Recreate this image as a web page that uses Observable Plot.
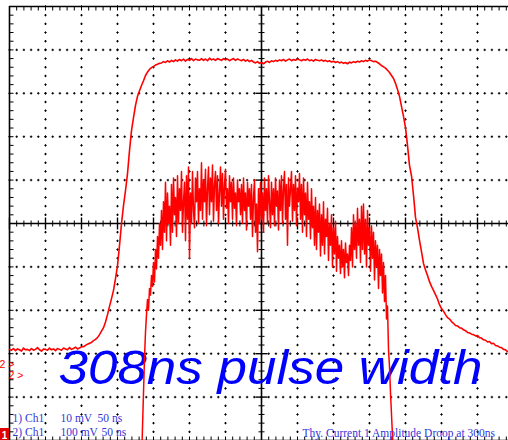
<!DOCTYPE html>
<html>
<head>
<meta charset="utf-8">
<script src="https://cdn.jsdelivr.net/npm/d3@7"></script>
<script src="https://cdn.jsdelivr.net/npm/@observablehq/plot@0.6"></script>
<style>
  html, body { margin: 0; padding: 0; background: #fff; }
  #scope { width: 508px; height: 440px; overflow: hidden; position: relative; }
  #scope svg { overflow: hidden; display: block; }
</style>
</head>
<body>
<div id="scope"></div>
<script>
// ---- Acquisition settings ----
const timePerDiv = 50;        // ns / div
const ch1MvPerDiv = 10;       // mV / div
const ch2MvPerDiv = 100;      // mV / div
const ch1Ground = -5;         // reference level, div
const ch2Ground = -3.5;       // reference level, div
const ch1Start = -350;        // ns, first sample
const ch1Step = 2.7778;       // ns, sample interval
const ch2Start = -166.67;     // ns, first sample
const ch2Step = 1.3889;       // ns, sample interval

// ---- Channel 1 record (mV) ----
const ch1 = [
  21.0, 20.8, 21.2, 20.7, 21.1, 20.9, 20.6, 21.3, 20.9, 21.0,
  20.7, 21.2, 20.8, 21.0, 21.4, 20.9, 20.6, 21.1, 21.0, 20.8,
  21.3, 20.9, 21.1, 20.7, 21.2, 21.0, 20.8, 21.3, 21.1, 20.9,
  21.4, 21.0, 21.2, 21.5, 21.1, 21.3, 21.6, 21.6, 21.9, 22.2,
  22.4, 22.6, 23.0, 23.3, 23.7, 24.4, 25.2, 26.0, 27.3, 29.0,
  30.9, 32.7, 34.6, 37.3, 40.3, 44.9, 50.0, 54.1, 57.6, 61.5,
  66.8, 71.4, 74.4, 77.2, 79.3, 80.6, 81.8, 82.9, 84.1, 84.9,
  85.5, 85.9, 86.2, 86.5, 86.7, 86.9,
  87.0, 87.3, 87.1, 87.5, 87.2, 87.6, 87.3, 87.7, 87.4, 87.8,
  87.5, 87.9, 87.4, 87.8, 87.6, 88.0, 87.5, 87.9, 87.7, 87.6,
  88.0, 87.6, 87.9, 87.5, 88.1, 87.7, 87.9, 87.6, 88.0, 87.8,
  87.6, 88.0, 87.7, 87.9, 87.5, 87.8, 88.0, 87.6, 87.9, 87.7,
  87.5, 87.8, 87.4, 87.7, 87.3, 87.6, 87.2, 87.0, 87.3, 86.9,
  87.1, 86.8, 87.2, 87.4, 87.1, 87.5, 87.3, 87.6, 87.4, 87.7,
  87.5, 87.8, 87.4, 87.7, 87.9, 87.5, 87.8, 87.6, 87.9, 87.7,
  87.5, 87.8, 87.6, 87.9, 87.5, 87.7, 87.4, 87.8, 87.6, 87.5,
  87.7, 87.4, 87.6, 87.3, 87.5, 87.2, 87.4, 87.1, 87.3, 87.0,
  87.2, 86.9, 87.1, 86.8, 87.2, 87.0, 87.3, 87.1, 87.4, 87.2,
  87.5, 87.3, 87.6, 87.4, 87.7, 87.5, 87.3, 87.4, 87.1, 86.8,
  86.4, 86.1, 85.8, 85.3, 84.8, 84.1, 83.4, 82.3, 80.9, 79.3,
  77.0, 74.7, 72.1, 68.0, 63.4, 61.0, 56.5, 51.4, 49.0, 46.1,
  43.5, 40.8, 39.3, 38.0, 36.6, 35.5, 34.6, 33.6, 32.6, 31.3,
  30.4, 29.8, 29.0, 28.3, 28.0, 27.4, 27.0, 26.5, 26.4, 26.0,
  25.9, 25.5, 25.3, 24.9, 24.8, 24.5, 24.4, 24.1, 24.2, 23.7,
  23.6, 23.2, 23.1, 22.7, 22.8, 22.3, 22.4, 21.9, 21.8, 21.5,
  21.4, 21.0, 20.9, 20.5, 20.3, 20.1
];

// ---- Channel 2 record (mV) ----
const ch2 = [
  -200, -120, -40, 40, 100, 140, 175, 150, 200, 185,
  230, 205, 260, 215, 290, 245, 320, 270, 350, 300,
  380, 290, 400, 330, 445, 310, 420, 350, 390, 300,
  440, 330, 455, 370, 410, 320, 460, 350, 430, 380,
  470, 330, 400, 445, 310, 460, 360, 480, 270, 420,
  350, 470, 380, 340, 455, 400, 470, 350, 430, 380,
  490, 360, 450, 400, 475, 345, 430, 480, 370, 455,
  400, 485, 355, 440, 470, 380, 460, 350, 420, 480,
  390, 465, 360, 440, 475, 385, 430, 350, 460, 400,
  445, 360, 455, 385, 420, 345, 450, 400, 430, 370,
  440, 350, 455, 380, 420, 335, 445, 390, 430, 360,
  440, 320, 410, 450, 330, 395, 285, 430, 350, 445,
  360, 420, 330, 455, 380, 430, 350, 460, 400, 340,
  445, 370, 430, 345, 455, 390, 425, 335, 450, 380,
  460, 350, 430, 470, 360, 440, 300, 455, 390, 430,
  470, 355, 440, 380, 460, 345, 430, 400, 465, 360,
  440, 330, 455, 370, 420, 320, 445, 360, 400, 315,
  430, 340, 390, 300, 410, 290, 380, 330, 395, 275,
  370, 300, 400, 280, 360, 320, 385, 265, 350, 300,
  370, 250, 340, 280, 355, 240, 320, 270, 300, 235,
  310, 250, 290, 225, 305, 260, 280, 230, 300, 265,
  340, 250, 370, 290, 350, 270, 385, 300, 360, 260,
  390, 290, 395, 280, 360, 250, 380, 300, 340, 240,
  345, 270, 330, 220, 310, 250, 300, 200, 290, 230,
  280, 190, 260, 170, 230, 130, 160, 60, 20, -40,
  -90, -140, -190, -240
];

// ---- Screen text ----
const annotation = "308ns pulse width";
const setupRows = [
  ["1) Ch1", "10 mV", "50 ns"],
  ["2) Ch1", "100 mV", "50 ns"]
];
const footer = "Thy. Current 1 Amplitude Droop at 300ns";
const ch2Marker = "2 >";

// ---- Traces in screen divisions ----
const trace1 = ch1.map((v, i) => ({t: ch1Start + i * ch1Step, y: ch1Ground + v / ch1MvPerDiv}));
const trace2 = ch2.map((v, i) => ({t: ch2Start + i * ch2Step, y: ch2Ground + v / ch2MvPerDiv}));

// ---- Graticule: 14 x 10 divisions, 5 subdivisions each ----
const halfX = 7 * timePerDiv;
const xMinor = d3.range(-35, 36).map(k => k * timePerDiv / 5);
const yMinor = d3.range(-25, 26).map(k => k / 5);
const xMajor = d3.range(-6, 7).filter(k => k !== 0).map(k => k * timePerDiv);
const yMajor = [-4, -3, -2, -1, 1, 2, 3, 4];

const gridDots = [];
for (const y of yMajor) for (const t of xMinor) gridDots.push({t, y});
for (const t of xMajor) for (const y of yMinor) gridDots.push({t, y});

const isMajorT = t => Math.abs(t / timePerDiv - Math.round(t / timePerDiv)) < 1e-6;
const isMajorY = y => Math.abs(y - Math.round(y)) < 1e-6;

// tick glyphs drawn as short line segments
const seg = (x1, y1, x2, y2) => ({draw(ctx) { ctx.moveTo(x1, y1); ctx.lineTo(x2, y2); }});
const plus = {draw(ctx) { ctx.moveTo(-1.2, 0); ctx.lineTo(1.2, 0); ctx.moveTo(0, -1.2); ctx.lineTo(0, 1.2); }};

const ink = "#000";
const tickStyle = {fill: "none", stroke: ink, strokeWidth: 1};
const markerStyle = {
  text: d => d, frameAnchor: "left", textAnchor: "start",
  fontSize: 10.5, fontFamily: "Liberation Sans, Arial, sans-serif", fill: "#ff0000"
};
const readoutStyle = {
  text: d => d, frameAnchor: "top-left", textAnchor: "start", lineAnchor: "bottom",
  fontSize: 11.5, fontFamily: "Liberation Serif, Times New Roman, serif", fill: "#3535d8"
};

const marks = [
  // dotted graticule
  Plot.dot(gridDots, {x: "t", y: "y", symbol: plus, r: 2, fill: "none", stroke: ink, strokeWidth: 1}),
  // frame edges
  Plot.ruleX([-halfX], {y1: -5, y2: 5, stroke: ink, strokeWidth: 1.6}),
  Plot.ruleY([5, -5], {x1: -halfX, x2: halfX, stroke: ink, strokeWidth: 1.6}),
  Plot.dot(xMinor, {x: d => d, y: 5, symbol: seg(0, 0, 0, 4), ...tickStyle}),
  Plot.dot(xMinor, {x: d => d, y: -5, symbol: seg(0, 0, 0, -4), ...tickStyle}),
  Plot.dot(yMinor, {x: -halfX, y: d => d, symbol: seg(0, 0, 4, 0), ...tickStyle}),
  // centre axes
  Plot.ruleX([0], {y1: -5, y2: 5, stroke: ink, strokeWidth: 1.6}),
  Plot.ruleY([0], {x1: -halfX, x2: halfX, stroke: ink, strokeWidth: 1.6}),
  Plot.dot(xMinor.filter(t => !isMajorT(t)), {x: d => d, y: 0, symbol: seg(0, -3, 0, 3), ...tickStyle}),
  Plot.dot(xMinor.filter(isMajorT), {x: d => d, y: 0, symbol: seg(0, -6, 0, 6), ...tickStyle, strokeWidth: 1.4}),
  Plot.dot(yMinor.filter(y => !isMajorY(y)), {x: 0, y: d => d, symbol: seg(-3, 0, 3, 0), ...tickStyle}),
  Plot.dot(yMinor.filter(isMajorY), {x: 0, y: d => d, symbol: seg(-6, 0, 6, 0), ...tickStyle, strokeWidth: 1.4}),
  // annotation
  Plot.text([annotation], {
    text: d => d, frameAnchor: "top-left", dx: 58, dy: 383,
    textAnchor: "start", lineAnchor: "bottom",
    fontSize: 48, fontStyle: "italic", fontFamily: "Liberation Sans, Arial, sans-serif",
    fill: "#0000ff"
  }),
  // traces
  Plot.line(trace2, {x: "t", y: "y", stroke: "#ff0000", strokeWidth: 1.5, curve: "linear"}),
  Plot.line(trace1, {x: "t", y: "y", stroke: "#ff0000", strokeWidth: 1.6, curve: "linear"}),
  // channel 2 reference markers
  Plot.text([ch2Marker], {...markerStyle, y: ch2Ground + 0.24, dx: -1}),
  Plot.text([ch2Marker], {...markerStyle, y: ch2Ground, dx: 8}),
  // setup readout
  ...setupRows.flatMap((row, r) => row.map((cell, c) => Plot.text([cell], {
    ...readoutStyle, dx: [12, 60, r === 0 ? 97 : 101][c], dy: 421 + r * 14
  }))),
  Plot.text([footer], {...readoutStyle, dx: 302, dy: 436})
];

const chart = Plot.plot({
  width: 508,
  height: 440,
  margin: 0,
  style: {background: "#fff", overflow: "hidden"},
  x: {domain: [-halfX, halfX], range: [9, 513], axis: null},
  y: {domain: [-5, 5], range: [440, 6], axis: null},
  marks
});

// stretch the annotation to its display width
d3.select(chart).selectAll("text")
  .filter(function() { return this.textContent === annotation; })
  .attr("textLength", 424)
  .attr("lengthAdjust", "spacingAndGlyphs");

// channel 1 ground marker (below screen)
const svg = d3.select(chart);
const g1 = svg.append("g");
g1.append("rect").attr("x", 0).attr("y", 428).attr("width", 9).attr("height", 12).attr("fill", "#e00000");
g1.append("text").attr("x", 4.5).attr("y", 438.5).attr("text-anchor", "middle")
  .attr("font-family", "Liberation Sans, Arial, sans-serif").attr("font-weight", "bold")
  .attr("font-size", 10).attr("fill", "#fff").text("1");

document.getElementById("scope").append(chart);
</script>
</body>
</html>
